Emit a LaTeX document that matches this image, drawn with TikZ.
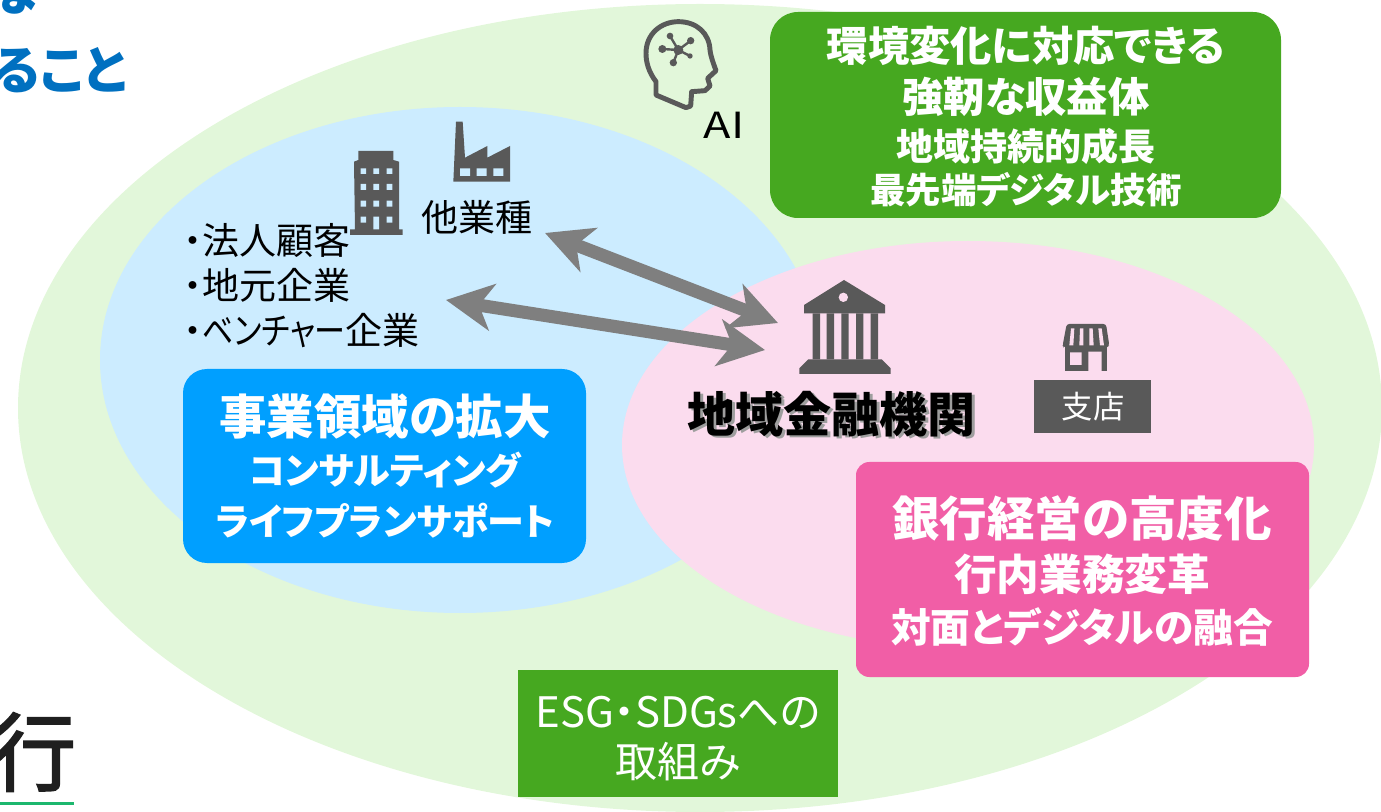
\documentclass[tikz,border=0pt]{standalone}
\usepackage{fontspec}
\setmainfont[RawFeature=+palt]{Noto Sans CJK JP}
\newfontfamily\logofont[RawFeature={embolden=2}]{Noto Sans CJK JP}
\usetikzlibrary{arrows.meta}
\definecolor{ogreen}{HTML}{E2F7DA}
\definecolor{lblue}{HTML}{CCECFF}
\definecolor{lpink}{HTML}{FBDCEE}
\definecolor{bgreen}{HTML}{46A820}
\definecolor{bblue}{HTML}{009FFF}
\definecolor{bpink}{HTML}{F15EA6}
\definecolor{icon}{HTML}{595959}
\definecolor{arr}{HTML}{7F7F7F}
\definecolor{hblue}{HTML}{0070C0}
\definecolor{rule}{HTML}{1DB76E}
\newcommand{\fpx}[1]{\fontsize{#1}{#1}\selectfont}
\tikzset{
  lbl/.style={inner sep=0pt,outer sep=0pt,anchor=center},
  wb/.style={lbl,text=white,font=\bfseries\fpx{27.75pt}},
  wbs/.style={lbl,text=white,font=\bfseries\fpx{26.6pt}},
  wbm/.style={lbl,text=white,font=\bfseries\fpx{31pt}},
  wbl/.style={lbl,text=white,font=\bfseries\fpx{35.6pt}},
  wr/.style={lbl,text=white,font=\fpx{31.5pt}},
  blk/.style={lbl,text=black,font=\fpx{27.75pt}},
  fat/.style={line width=9.75pt,draw=arr,{Stealth[length=35pt,width=35pt,inset=10pt]}-{Stealth[length=35pt,width=35pt,inset=10pt]}},
}
\begin{document}
\begin{tikzpicture}[x=0.75pt,y=-0.75pt]
\useasboundingbox (0,0) rectangle (1381,812);
\clip (0,0) rectangle (1381,812);
% ellipses
\fill[ogreen] (700,408) ellipse [x radius=682,y radius=404];
\fill[lblue] (460,360) ellipse [x radius=360,y radius=253];
\fill[lpink] (968,445) ellipse [x radius=346,y radius=204];
% clipped heading and logo fragments
\node[lbl,anchor=east,text=hblue,font=\bfseries\fpx{39pt}] (headA) at (38,-9) {な};
\node[lbl,anchor=east,text=hblue,font=\bfseries\fpx{39pt}] (headB) at (127,70) {ること};
\node[lbl,anchor=east,text=black!88,font=\logofont\fpx{64pt}] (logo) at (76,752) {行};
\fill[rule] (0,802) rectangle (74,805);
% boxes
\fill[bgreen,rounded corners=21pt] (770,12) rectangle (1281,218);
\fill[bblue,rounded corners=18pt] (183,369) rectangle (586,563);
\fill[bpink,rounded corners=10pt] (856,462) rectangle (1309,677);
\fill[bgreen] (518,670) rectangle (838,797);
\fill[icon] (1034,380) rectangle (1151,433);
% green box text
\node[wbm] (g1) at (1026,46) {環境変化に対応できる};
\node[wbm] (g2) at (1026,97) {強靭な収益体};
\node[wb] (g3) at (1026,146) {地域持続的成長};
\node[wbs] (g4) at (1026,190) {最先端デジタル技術};
% blue box text
\node[wbl] (b1) at (385,417) {事業領域の拡大};
\node[wb] (b2) at (385,470) {コンサルティング};
\node[wb] (b3) at (385,521) {ライフプランサポート};
% pink box text
\node[wbl] (p1) at (1082,518) {銀行経営の高度化};
\node[wbm,font=\bfseries\fpx{32pt}] (p2) at (1082,574) {行内業務変革};
\node[wbm,font=\bfseries\fpx{29.8pt}] (p3) at (1082,627) {対面とデジタルの融合};
% ESG box text
\node[wr] (e1) at (678,712) {ESG・SDGsへの};
\node[wr] (e2) at (678,762) {取組み};
\node[lbl,text=white,font=\fpx{23.5pt}] (shiten) at (1093,407) {支店};
% plain labels
\node[blk,anchor=west] (c1) at (184,240) {・法人顧客};
\node[blk,anchor=west] (c2) at (184,285) {・地元企業};
\node[blk,anchor=west] (c3) at (184,331) {・\scalebox{0.84}[1]{ベンチャー}企業};
\node[blk] (other) at (477,217) {他業種};
\node[lbl,text=black,font=\fpx{27pt},xscale=1.25] (ai) at (724,125) {AI};
% main label with soft shadow
\node[lbl,text=black,font=\bfseries\fpx{36pt}] (main) at (831,415)
  {\makebox[0pt][l]{\hspace{2.5pt}\raisebox{-2pt}{\textcolor{black!38}{地域金融機関}}}地域金融機関};
% arrows
\coordinate (a1s) at (545,233);
\coordinate (a1e) at (778,323);
\coordinate (a2s) at (446,300);
\coordinate (a2e) at (765,350);
\draw[fat] (a1s) -- (a1e);
\draw[fat] (a2s) -- (a2e);
% head icon
\begin{scope}[shift={(620,0)},x=0.25pt,y=-0.25pt]
\draw[icon,line width=3.7pt,line join=round]
 (108,285) -- (108,245) .. controls (85,215) and (78,185) .. (78,160)
 .. controls (78,100) and (125,65) .. (175,65)
 .. controls (230,65) and (268,100) .. (270,150)
 .. controls (272,170) and (282,195) .. (288,212)
 -- (263,235) -- (270,258) -- (255,272) -- (215,275) -- (212,318)
 -- (198,323) -- cycle;
\draw[icon,line width=1.8pt] (150,108) -- (175,150) -- (212,122) (175,150) -- (210,168) (175,150) -- (160,188) (175,150) -- (127,147);
\fill[icon] (175,150) circle (15) (150,108) circle (10) (212,122) circle (11) (210,168) circle (8) (160,188) circle (11) (127,147) circle (12);
\end{scope}
% factory and building icons
\begin{scope}[shift={(340,110)},x=0.25pt,y=-0.25pt]
\fill[icon] (340,215) -- (348,35) -- (368,35) -- (375,143) -- (442,108) -- (442,143) -- (510,108) -- (510,215) -- cycle;
\fill[lblue] (360,175) rectangle (390,198) (410,175) rectangle (440,198) (460,175) rectangle (490,198);
\fill[icon] (30,375) -- (30,358) -- (45,358) -- (42,155) -- (55,150) -- (55,123) -- (160,123) -- (160,150) -- (177,155) -- (177,358) -- (188,358) -- (188,375) -- cycle;
\fill[lblue] (62,175) rectangle (78,192) (100,175) rectangle (117,192) (140,175) rectangle (157,192)
 (62,222) rectangle (78,240) (100,222) rectangle (117,240) (140,222) rectangle (157,240)
 (62,272) rectangle (78,290) (100,272) rectangle (117,290) (140,272) rectangle (157,290)
 (62,320) rectangle (78,338) (100,320) rectangle (117,358) (140,320) rectangle (157,338);
\end{scope}
% bank and shop icons
\begin{scope}[shift={(780,270)},x=0.25pt,y=-0.25pt]
\fill[icon] (192,30) -- (315,105) -- (315,130) -- (72,130) -- (72,105) -- cycle;
\fill[lpink] (190,82) circle (14);
\fill[icon] (98,130) rectangle (120,268) (140,130) rectangle (162,268) (184,130) rectangle (206,268) (228,130) rectangle (250,268) (272,130) rectangle (294,268);
\fill[icon] (85,268) -- (305,268) -- (332,295) -- (332,312) -- (58,312) -- (58,295) -- cycle;
\fill[icon] (855,225) rectangle (980,303);
\fill[lpink] (870,247) rectangle (905,285) (925,245) rectangle (965,303);
\fill[icon,rounded corners=2pt] (860,162) -- (978,162) -- (988,226) -- (982,232) -- (850,232) -- (848,226) -- cycle;
\fill[lpink] (873,175) -- (883,175) -- (880,226) -- (868,226) -- cycle
 (900,175) -- (910,175) -- (910,226) -- (898,226) -- cycle
 (928,175) -- (938,175) -- (941,226) -- (928,226) -- cycle
 (955,175) -- (965,175) -- (972,226) -- (960,226) -- cycle;
\end{scope}
\end{tikzpicture}
\end{document}
